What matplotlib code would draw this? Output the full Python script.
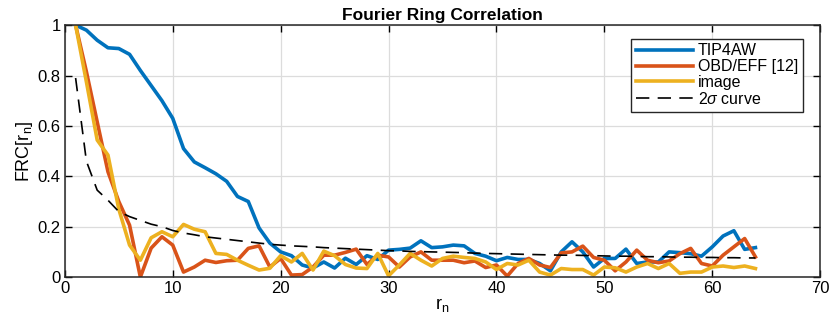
import matplotlib
matplotlib.use("Agg")
import matplotlib.pyplot as plt

# ─── data ───
r_n = list(range(1, 65))

tip4aw = [1.00, 0.98, 0.94, 0.91, 0.907, 0.884, 0.82, 0.76, 0.70, 0.63,
          0.51, 0.457, 0.434, 0.41, 0.38, 0.32, 0.30, 0.195, 0.135, 0.10,
          0.085, 0.048, 0.036, 0.06, 0.036, 0.075, 0.05, 0.085, 0.07, 0.107,
          0.11, 0.115, 0.144, 0.117, 0.12, 0.127, 0.124, 0.094, 0.083, 0.065,
          0.078, 0.07, 0.07, 0.054, 0.025, 0.10, 0.14, 0.10, 0.04, 0.074,
          0.074, 0.111, 0.054, 0.06, 0.06, 0.10, 0.097, 0.093, 0.083, 0.12,
          0.163, 0.184, 0.11, 0.117]

obd_eff = [1.00, 0.815, 0.616, 0.418, 0.30, 0.206, 0.0, 0.115, 0.16, 0.127,
           0.02, 0.04, 0.067, 0.058, 0.065, 0.067, 0.114, 0.124, 0.04, 0.074,
           0.008, 0.01, 0.04, 0.087, 0.087, 0.098, 0.111, 0.05, 0.087, 0.08,
           0.04, 0.08, 0.10, 0.067, 0.067, 0.067, 0.057, 0.064, 0.038, 0.048,
           0.004, 0.054, 0.074, 0.048, 0.038, 0.096, 0.10, 0.123, 0.078, 0.067,
           0.025, 0.06, 0.107, 0.067, 0.057, 0.064, 0.093, 0.114, 0.054, 0.044,
           0.087, 0.12, 0.153, 0.08]

image = [1.00, 0.775, 0.544, 0.484, 0.27, 0.127, 0.067, 0.156, 0.18, 0.16,
         0.209, 0.19, 0.18, 0.094, 0.09, 0.067, 0.047, 0.028, 0.035, 0.085,
         0.06, 0.094, 0.028, 0.103, 0.085, 0.05, 0.036, 0.034, 0.094, 0.005,
         0.048, 0.094, 0.067, 0.044, 0.074, 0.083, 0.078, 0.074, 0.06, 0.03,
         0.054, 0.048, 0.067, 0.02, 0.008, 0.034, 0.03, 0.03, 0.008, 0.04,
         0.037, 0.02, 0.04, 0.054, 0.034, 0.054, 0.015, 0.02, 0.02, 0.04,
         0.044, 0.038, 0.044, 0.034]

two_sigma = [0.79, 0.46, 0.345, 0.305, 0.26, 0.24, 0.225, 0.21, 0.20, 0.185,
             0.175, 0.168, 0.16, 0.155, 0.15, 0.145, 0.14, 0.135, 0.13, 0.127,
             0.124, 0.122, 0.12, 0.117, 0.115, 0.113, 0.111, 0.109, 0.107, 0.105,
             0.104, 0.102, 0.101, 0.10, 0.099, 0.098, 0.097, 0.095, 0.094, 0.093,
             0.092, 0.091, 0.09, 0.089, 0.088, 0.087, 0.087, 0.086, 0.085, 0.084,
             0.083, 0.083, 0.082, 0.081, 0.081, 0.08, 0.079, 0.079, 0.078, 0.078,
             0.077, 0.077, 0.076, 0.076]

# ─── style ───
plt.rcParams["font.family"] = ["Liberation Sans", "DejaVu Sans"]
plt.rcParams["mathtext.fontset"] = "custom"
plt.rcParams["mathtext.rm"] = "Liberation Sans"
plt.rcParams["mathtext.it"] = "Liberation Sans:italic"
plt.rcParams["font.size"] = 11

fig = plt.figure(figsize=(8.31, 3.26), dpi=100)
ax = fig.add_axes([0.078, 0.150, 0.909, 0.773])

ax.plot(r_n, tip4aw, color="#0072BD", lw=2.6, label="TIP4AW")
ax.plot(r_n, obd_eff, color="#D95319", lw=2.6, label="OBD/EFF [12]")
ax.plot(r_n, image, color="#EDB120", lw=2.6, label="image")
ax.plot(r_n, two_sigma, color="black", lw=1.2, dashes=(8, 5), label="2$\\sigma$ curve")

ax.set_xlim(0, 70)
ax.set_ylim(0, 1)
ax.set_xticks(range(0, 71, 10))
ax.set_yticks([0, 0.2, 0.4, 0.6, 0.8, 1])
ax.set_yticklabels(["0", "0.2", "0.4", "0.6", "0.8", "1"])
ax.grid(True, color="#dcdcdc", lw=0.9)
ax.set_axisbelow(True)
ax.tick_params(direction="in", top=True, right=True, length=5, width=1,
               labelsize=12, pad=3)
for s in ax.spines.values():
    s.set_linewidth(1.1)
    s.set_color("#262626")

ax.set_title("Fourier Ring Correlation", fontsize=12.5, fontweight="bold", pad=4)
ax.set_xlabel("r$_\\mathregular{n}$", fontsize=13, labelpad=0)
ax.set_ylabel("FRC[r$_\\mathregular{n}$]", fontsize=13, labelpad=2)

leg = ax.legend(loc="upper right", bbox_to_anchor=(0.988, 0.978), fontsize=11.5,
                fancybox=False, framealpha=1, edgecolor="#262626",
                handlelength=3.6, handletextpad=0.3, labelspacing=0.05,
                borderpad=0.3)
leg.get_frame().set_linewidth(1)

fig.savefig("out.png", dpi=100)
